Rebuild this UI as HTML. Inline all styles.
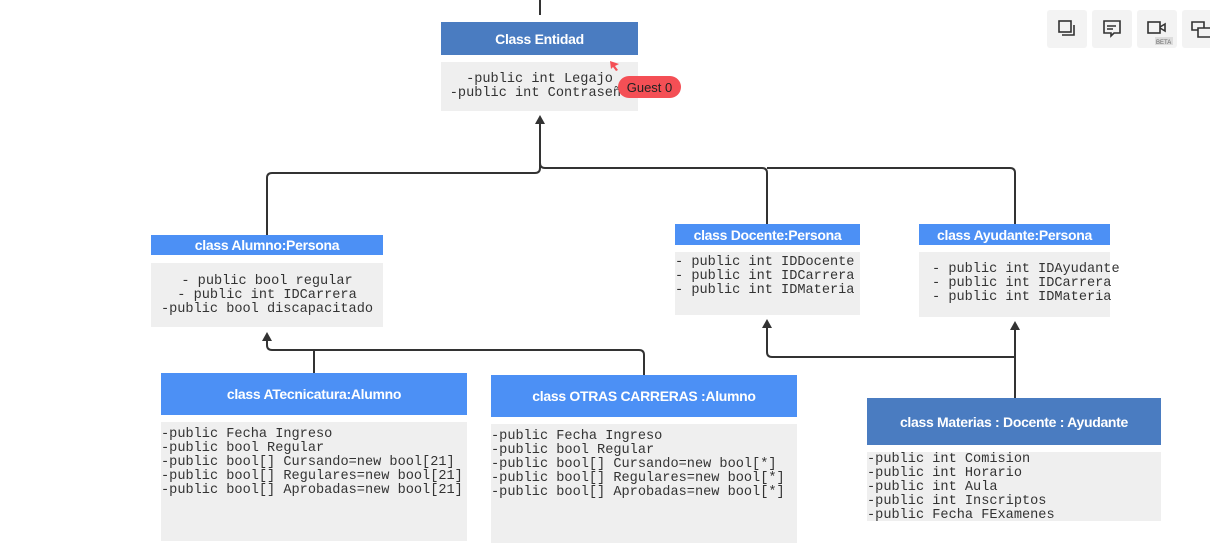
<!DOCTYPE html>
<html><head><meta charset="utf-8"><style>
body{margin:0;width:1210px;height:553px;background:#fff;position:relative;overflow:hidden;font-family:"Liberation Sans",sans-serif}
.h{position:absolute;color:#fff;font-weight:bold;font-size:14px;display:flex;align-items:center;justify-content:center;letter-spacing:-0.3px}
.b{position:absolute;background:#efefef;font-family:"Liberation Mono","Courier New",monospace;font-size:13.6px;line-height:14px;color:#333;white-space:pre;box-sizing:border-box}
.d{background:#4a7cc1}.l{background:#4c90f5}
.btn{position:absolute;top:10px;width:40px;height:38px;background:#f3f3f3;border-radius:3px}
</style></head><body>
<svg width="1210" height="553" style="position:absolute;left:0;top:0">
<g fill="none" stroke="#333" stroke-width="2">
<path d="M540 0V15"/>
<path d="M540 122V168q0 5-5 5H272q-5 0-5 5V235"/>
<path d="M540 163q0 5 5 5H762q5 0 5 5V224"/>
<path d="M767 168H1010q5 0 5 5V224"/>
<path d="M267 338V345q0 5 5 5H639q5 0 5 5V375"/>
<path d="M314 350V373"/>
<path d="M767 326V352q0 5 5 5H1015"/>
<path d="M1015 328V398"/>
</g>
<g fill="#333">
<path d="M540 115l-5 9h10z"/><path d="M267 332l-5 9h10z"/><path d="M767 319l-5 9h10z"/><path d="M1015 321l-5 9h10z"/>
</g>
</svg>
<div class="h d" style="left:441px;top:22px;width:197px;height:33px">Class Entidad</div>
<div class="b" style="left:441px;top:62px;width:197px;height:49px;padding-top:11px;text-align:center;overflow:hidden">-public int Legajo
-public int Contraseña</div>
<div style="position:absolute;left:618px;top:76px;width:63px;height:22px;background:#f44f55;border-radius:11px;color:#222;font-size:13px;display:flex;align-items:center;justify-content:center">Guest 0</div>
<svg style="position:absolute;left:609px;top:60px" width="12" height="12"><path d="M1 1L10 4L6 6L9 10L7 11L4 7L2 9Z" fill="#f44f55"/></svg>

<div class="h l" style="left:151px;top:235px;width:232px;height:20px">class Alumno:Persona</div>
<div class="b" style="left:151px;top:263px;width:232px;height:64px;padding-top:12px;text-align:center">- public bool regular
- public int IDCarrera
-public bool discapacitado</div>

<div class="h l" style="left:675px;top:224px;width:185px;height:21px">class Docente:Persona</div>
<div class="b" style="left:675px;top:252px;width:185px;height:63px;padding-top:4px">- public int IDDocente
- public int IDCarrera
- public int IDMateria</div>

<div class="h l" style="left:919px;top:224px;width:191px;height:21px">class Ayudante:Persona</div>
<div class="b" style="left:919px;top:252px;width:191px;height:65px;padding-top:11px;padding-left:13px">- public int IDAyudante
- public int IDCarrera
- public int IDMateria</div>

<div class="h l" style="left:161px;top:373px;width:306px;height:42px">class ATecnicatura:Alumno</div>
<div class="b" style="left:161px;top:422px;width:306px;height:119px;padding-top:6px">-public Fecha Ingreso
-public bool Regular
-public bool[] Cursando=new bool[21]
-public bool[] Regulares=new bool[21]
-public bool[] Aprobadas=new bool[21]</div>

<div class="h l" style="left:491px;top:375px;width:306px;height:42px">class OTRAS CARRERAS :Alumno</div>
<div class="b" style="left:491px;top:424px;width:306px;height:119px;padding-top:6px">-public Fecha Ingreso
-public bool Regular
-public bool[] Cursando=new bool[*]
-public bool[] Regulares=new bool[*]
-public bool[] Aprobadas=new bool[*]</div>

<div class="h d" style="left:867px;top:398px;width:294px;height:47px">class Materias : Docente : Ayudante</div>
<div class="b" style="left:867px;top:452px;width:294px;height:69px;padding-top:1px">-public int Comision
-public int Horario
-public int Aula
-public int Inscriptos
-public Fecha FExamenes</div>

<div class="btn" style="left:1047px"><svg width="40" height="38"><rect x="12" y="11" width="12" height="11" fill="none" stroke="#333" stroke-width="1.6"/><path d="M15 25h12v-10" fill="none" stroke="#333" stroke-width="1.6"/></svg></div>
<div class="btn" style="left:1092px"><svg width="40" height="38"><path d="M12 11h16v12h-6l-3 3v-3h-7z" fill="none" stroke="#333" stroke-width="1.6"/><path d="M15 16h9M15 19h6" stroke="#333" stroke-width="1.4"/></svg></div>
<div class="btn" style="left:1137px"><svg width="40" height="38"><rect x="11" y="12" width="12" height="11" fill="none" stroke="#333" stroke-width="1.6"/><path d="M23 17l5-3v7l-5-3" fill="none" stroke="#333" stroke-width="1.6"/><rect x="18" y="27" width="18" height="8" fill="#ddd"/><text x="19" y="34" font-size="6" fill="#666" font-family="Liberation Sans">BETA</text></svg></div>
<div class="btn" style="left:1182px"><svg width="40" height="38"><path d="M10 12h12v8h-12z" fill="none" stroke="#333" stroke-width="1.6"/><path d="M16 18h14v9h-14z" fill="#f3f3f3" stroke="#333" stroke-width="1.6"/></svg></div>
</body></html>
